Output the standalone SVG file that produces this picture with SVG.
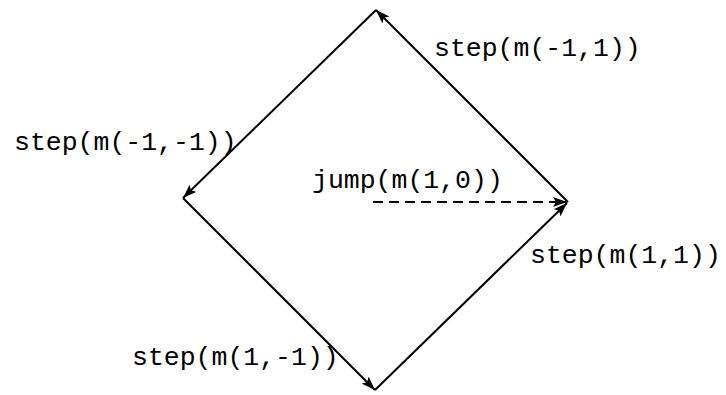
<svg xmlns="http://www.w3.org/2000/svg" width="726" height="395" viewBox="0 0 726 395">
<defs>
<marker id="ah" viewBox="0 0 14 10" refX="14" refY="5" markerWidth="14" markerHeight="10" markerUnits="userSpaceOnUse" orient="auto">
<path d="M0,0 L14,5 L0,10 L3,5 Z" fill="#000"/>
</marker>
<style>
.e{stroke:#000;stroke-width:2;fill:none;marker-end:url(#ah)}
.d{stroke-dasharray:10,6}
text{font-family:"Liberation Mono","DejaVu Sans Mono",monospace;font-size:26.5px;fill:#000}
</style>
</defs>
<rect width="726" height="395" fill="#fff"/>
<g id="connectors">
<line class="e" x1="568" y1="202" x2="376" y2="10"/>
<line class="e" x1="376" y1="10" x2="183" y2="198"/>
<line class="e" x1="183" y1="198" x2="375" y2="390"/>
<line class="e" x1="375" y1="390" x2="567" y2="203"/>
<line class="e d" x1="373" y1="202" x2="567" y2="202"/>
</g>
<g id="label-step-m1-1"><text x="434" y="56">step(m(-1,1))</text></g>
<g id="label-step-m1-m1"><text x="14" y="150">step(m(-1,-1))</text></g>
<g id="label-jump"><text x="312" y="188">jump(m(1,0))</text></g>
<g id="label-step-1-1"><text x="530" y="263">step(m(1,1))</text></g>
<g id="label-step-1-m1"><text x="132" y="365">step(m(1,-1))</text></g>
</svg>
